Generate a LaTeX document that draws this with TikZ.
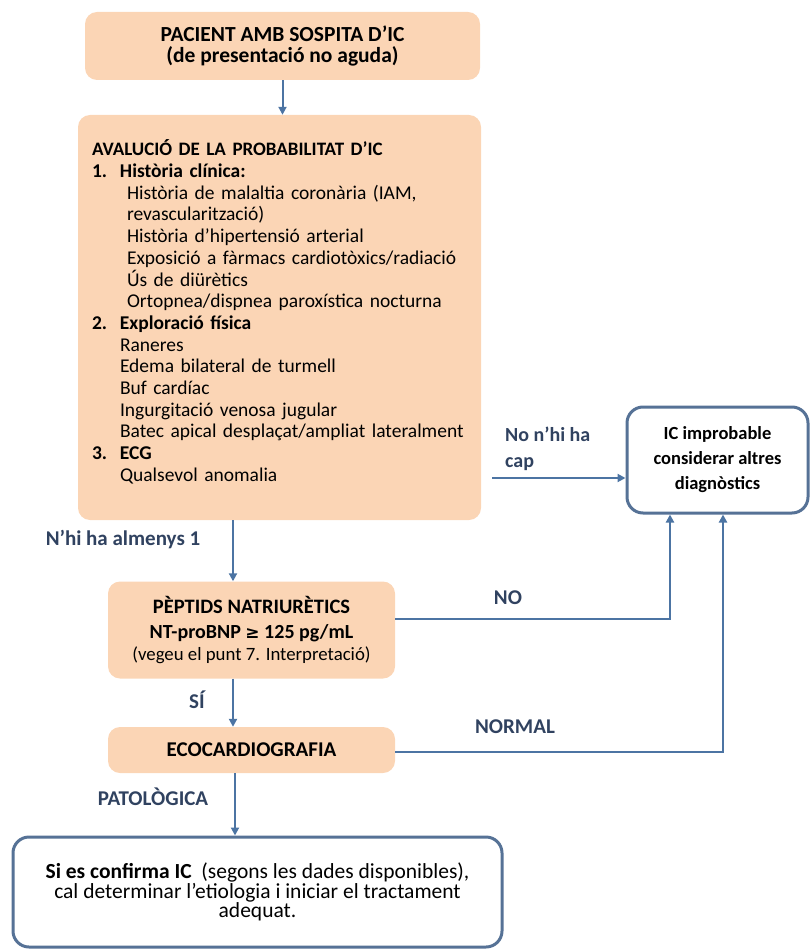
\documentclass[tikz,border=0pt]{standalone}
\usepackage{fontspec}
\setmainfont{Carlito}
\newfontfamily\symfont{DejaVu Sans}
\usetikzlibrary{arrows.meta}
\definecolor{peach}{RGB}{251,213,181}
\definecolor{linkblue}{RGB}{76,116,163}
\definecolor{frameblue}{RGB}{86,114,150}
\definecolor{labelblue}{RGB}{48,66,96}
\newcommand{\fs}[2]{\fontsize{#1}{#2}\selectfont}

\begin{document}
\begin{tikzpicture}[x=1pt, y=-1pt,
    stepbox/.style={fill=peach, rounded corners=12pt, inner sep=0pt, align=center},
    endbox/.style={draw=frameblue, line width=3pt, fill=white, rounded corners=16pt, inner sep=0pt, align=center},
    arr/.style={linkblue, line width=2pt, -{Triangle[length=8pt,width=8pt]}},
    lbl/.style={font=\fs{21}{26}\bfseries, text=labelblue, inner sep=0pt}]
    \useasboundingbox (0,0) rectangle (811,949);

    % Flow boxes
    \node[stepbox, minimum width=395pt, minimum height=68pt, font=\fs{21.5}{21}\bfseries] (patient) at (282.5,46)
        {PACIENT AMB SOSPITA D’IC\\(de presentació no aguda)};

    \node[stepbox, minimum width=399pt, minimum height=405pt, text width=375pt, inner xsep=14pt, align=left,
          font=\fs{19.5}{21.7}] (prob) at (279.5,317.5)
        {{\fs{19}{21.7}\textbf{AVALUCIÓ DE LA PROBABILITAT D’IC}}\\
         \makebox[28pt][l]{\textbf{1.}}\textbf{Història clínica:}\\
         \hspace*{35pt}Història de  malaltia coronària (IAM,\\
         \hspace*{35pt}revascularització)\\
         \hspace*{35pt}Història d’hipertensió arterial\\
         \hspace*{35pt}Exposició a fàrmacs cardiotòxics/radiació\\
         \hspace*{35pt}Ús de diürètics\\
         \hspace*{35pt}Ortopnea/dispnea paroxística nocturna\\
         \makebox[28pt][l]{\textbf{2.}}\textbf{Exploració  física}\\
         \hspace*{28pt}Raneres\\
         \hspace*{28pt}Edema bilateral de turmell\\
         \hspace*{28pt}Buf cardíac\\
         \hspace*{28pt}Ingurgitació venosa jugular\\
         \hspace*{28pt}Batec apical desplaçat/ampliat  lateralment\\
         \makebox[28pt][l]{\textbf{3.}}\textbf{ECG}\\
         \hspace*{28pt}Qualsevol anomalia\\[-8pt]\mbox{}};

    \node[stepbox, minimum width=287pt, minimum height=97pt, font=\fs{20.5}{25}] (pept) at (251.5,630)
        {\textbf{PÈPTIDS NATRIURÈTICS}\\{\fs{20}{25}\textbf{NT-proBNP {\symfont\fs{17}{25}≥} 125 pg/mL}}\\[-3pt]{\fs{18.8}{22}(vegeu el punt 7. Interpretació)}};

    \node[stepbox, minimum width=287pt, minimum height=46pt, font=\fs{21}{21}\bfseries] (eco) at (251.5,750)
        {ECOCARDIOGRAFIA};

    \node[endbox, minimum width=181pt, minimum height=106pt, font=\fs{18.5}{25}\bfseries] (improb) at (717.5,460)
        {IC improbable\\considerar altres\\diagnòstics};

    \node[endbox, minimum width=489pt, minimum height=110pt, font=\fs{21.5}{19.5}] (conf) at (257.5,892)
        {\textbf{Si es confirma IC}\ \ (segons les dades disponibles),\\cal determinar l’etiologia i iniciar el tractament\\adequat.};

    % Connectors
    \coordinate (ax) at (233,0);
    \coordinate (nocap) at (492,478);
    \draw[arr] (patient.south) -- (patient.south |- prob.north);
    \draw[arr] (prob.south -| ax) -- (pept.north -| ax);
    \draw[arr] (nocap) -- (nocap -| improb.west);
    \draw[arr] ([yshift=11pt]pept.east) -| ([xshift=-47.5pt]improb.south);
    \draw[arr] (pept.south -| ax) -- (eco.north -| ax);
    \draw[arr] ([yshift=-2pt]eco.east) -| ([xshift=5.5pt]improb.south);
    \draw[arr] ([xshift=-22.5pt]conf.north |- eco.south) -- ([xshift=-22.5pt]conf.north);

    % Branch labels
    \node[lbl, font=\fs{20}{26}\bfseries, align=left, anchor=west] (lblnone) at (505,449) {No n’hi ha\\cap};
    \node[lbl] (lblmin) at (123,540) {N’hi ha almenys 1};
    \node[lbl] (lblno) at (508,598) {NO};
    \node[lbl] (lblsi) at (197,700) {SÍ};
    \node[lbl] (lblnorm) at (515,727) {NORMAL};
    \node[lbl] (lblpat) at (153,797) {PATOLÒGICA};
\end{tikzpicture}
\end{document}
